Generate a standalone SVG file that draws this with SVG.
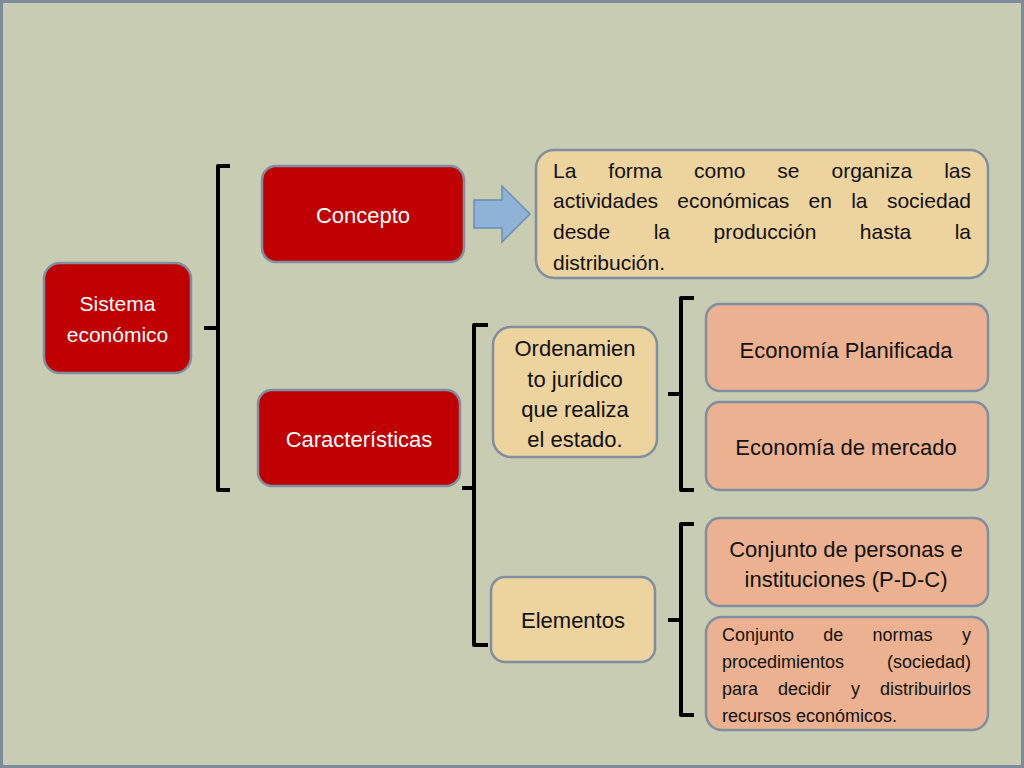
<svg xmlns="http://www.w3.org/2000/svg" width="1024" height="768" viewBox="0 0 1024 768">
<style>
.red{fill:#c00000;stroke:#7f8ea0;stroke-width:2.5}
.tan{fill:#edd39e;stroke:#7f8ea0;stroke-width:2.5}
.peach{fill:#ecb190;stroke:#7f8ea0;stroke-width:2.5}
.w{fill:#ffffff;font-family:"Liberation Sans",Arial,sans-serif;font-size:22px;text-anchor:middle}
.k{fill:#111111;font-family:"Liberation Sans",Arial,sans-serif;font-size:22px;text-anchor:middle}
.j{fill:#111111;font-family:"Liberation Sans",Arial,sans-serif;font-size:21px}
.s{fill:#111111;font-family:"Liberation Sans",Arial,sans-serif;font-size:18px}
.e{text-anchor:end}
.br{fill:none;stroke:#000000;stroke-width:4;stroke-linejoin:round}
</style>
<rect x="0" y="0" width="1024" height="768" fill="#c8ccb3"/>
<rect x="1.5" y="1.5" width="1021" height="765" fill="none" stroke="#7d8c9b" stroke-width="3"/>
<g id="connectors">
<path class="br" d="M230,166 H218 V490 H230 M204,328 H218"/>
<path class="br" d="M488,325 H474 V645 H488 M462,488 H474"/>
<path class="br" d="M694,298 H681 V490 H694 M668,394 H681"/>
<path class="br" d="M694,524 H681 V715 H694 M668,620 H681"/>
<path d="M474,200 H502 V186 L530,214 L502,242 V228 H474 Z" fill="#8fb3d7" stroke="#6a8db3" stroke-width="1.5"/>
</g>
<g id="sistema">
<rect class="red" x="44" y="263" width="147" height="110" rx="16"/>
<text class="w" x="117.5" y="311" style="font-size:21px">Sistema</text>
<text class="w" x="117.5" y="342" style="font-size:21px">económico</text>
</g>
<g id="concepto">
<rect class="red" x="262" y="166" width="202" height="96" rx="14"/>
<text class="w" x="363" y="223">Concepto</text>
</g>
<g id="caracteristicas">
<rect class="red" x="258" y="390" width="202" height="96" rx="14"/>
<text class="w" x="359" y="447">Características</text>
</g>
<g id="definicion">
<rect class="tan" x="536" y="150" width="452" height="128" rx="18"/>
<text class="j" y="178"><tspan x="553">La</tspan><tspan x="608.3">forma</tspan><tspan x="694">como</tspan><tspan x="777.3">se</tspan><tspan x="831.5">organiza</tspan><tspan class="e" x="971">las</tspan></text>
<text class="j" y="208"><tspan x="553">actividades</tspan><tspan x="677.3">económicas</tspan><tspan x="808.6">en</tspan><tspan x="851.2">la</tspan><tspan class="e" x="971">sociedad</tspan></text>
<text class="j" y="239"><tspan x="553">desde</tspan><tspan x="653.7">la</tspan><tspan x="713.6">producción</tspan><tspan x="859.8">hasta</tspan><tspan class="e" x="971">la</tspan></text>
<text class="j" x="553" y="270">distribución.</text>
</g>
<g id="ordenamiento">
<rect class="tan" x="493" y="327" width="164" height="130" rx="18"/>
<text class="k" x="575" y="356">Ordenamien</text>
<text class="k" x="575" y="387">to jurídico</text>
<text class="k" x="575" y="417">que realiza</text>
<text class="k" x="575" y="447">el estado.</text>
</g>
<g id="elementos">
<rect class="tan" x="491" y="577" width="164" height="85" rx="14"/>
<text class="k" x="573" y="628">Elementos</text>
</g>
<g id="planificada">
<rect class="peach" x="706" y="304" width="282" height="87" rx="14"/>
<text class="k" x="846" y="358">Economía Planificada</text>
</g>
<g id="mercado">
<rect class="peach" x="706" y="402" width="282" height="88" rx="14"/>
<text class="k" x="846" y="455">Economía de mercado</text>
</g>
<g id="personas">
<rect class="peach" x="706" y="518" width="282" height="88" rx="14"/>
<text class="k" x="846" y="557">Conjunto de personas e</text>
<text class="k" x="846" y="587">instituciones (P-D-C)</text>
</g>
<g id="normas">
<rect class="peach" x="706" y="617" width="282" height="113" rx="16"/>
<text class="s" y="641"><tspan x="722">Conjunto</tspan><tspan x="823.3">de</tspan><tspan x="872.6">normas</tspan><tspan class="e" x="971">y</tspan></text>
<text class="s" y="668"><tspan x="722">procedimientos</tspan><tspan class="e" x="971">(sociedad)</tspan></text>
<text class="s" y="695"><tspan x="722">para</tspan><tspan x="778">decidir</tspan><tspan x="851">y</tspan><tspan class="e" x="971">distribuirlos</tspan></text>
<text class="s" x="722" y="722">recursos económicos.</text>
</g>
</svg>
